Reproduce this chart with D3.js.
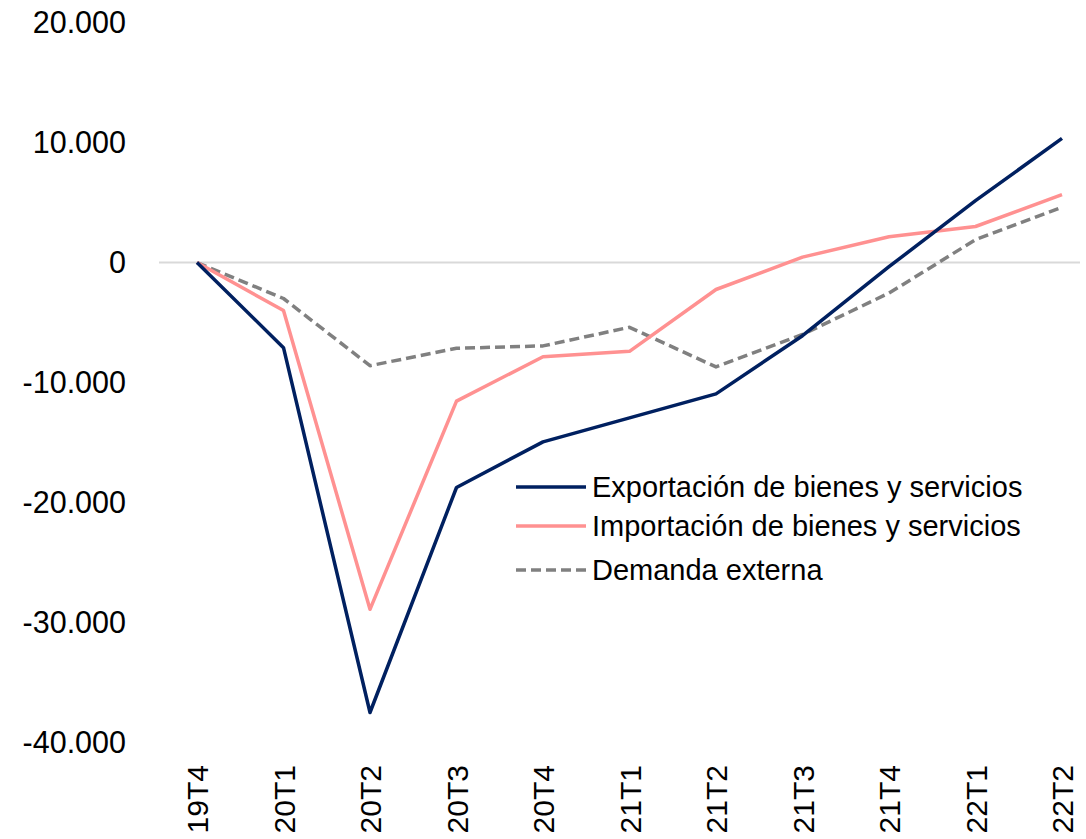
<!DOCTYPE html>
<html><head><meta charset="utf-8">
<script src="https://cdn.jsdelivr.net/npm/d3@7"></script>
<style>body{margin:0;background:#fff}svg{display:block;font-family:"Liberation Sans",Arial,sans-serif}</style>
</head><body>
<svg id="c" width="1086" height="839"></svg>
<script>
const categories = ["19T4","20T1","20T2","20T3","20T4","21T1","21T2","21T3","21T4","22T1","22T2"];
const exportacion = [0,-7100,-37500,-18750,-14950,-12950,-10950,-6100,-350,5150,10350];
const importacion = [0,-4000,-28900,-11550,-7850,-7400,-2250,450,2150,3000,5650];
const demanda = [0,-3000,-8600,-7150,-6950,-5400,-8700,-6000,-2550,1900,4600];
const yTicks = [20000,10000,0,-10000,-20000,-30000,-40000];
const seriesNames = ["Exportación de bienes y servicios","Importación de bienes y servicios","Demanda externa"];

const svg = d3.select("#c");
const x = d3.scalePoint().domain(categories).range([197,1062]);
const y = d3.scaleLinear().domain([-40000,20000]).range([742.5,22.5]);
const fmt = v => d3.format(",")(v).replace(/,/g,".").replace(/\u2212/g,"-");

// zero line
svg.append("line").attr("x1",159).attr("x2",1080).attr("y1",y(0)).attr("y2",y(0))
  .attr("stroke","#d9d9d9").attr("stroke-width",2);

// y axis labels
const ya = svg.append("g").attr("transform","translate(126,0)")
  .call(d3.axisLeft(y).tickValues(yTicks).tickFormat(fmt).tickSize(0).tickPadding(0));
ya.select(".domain").remove();
ya.selectAll("text").attr("font-size",30.5).attr("font-family","Liberation Sans, Arial, sans-serif").attr("fill","#000");

// x axis labels
const xa = svg.append("g").attr("transform","translate(0,765)")
  .call(d3.axisBottom(x).tickSize(0).tickPadding(0));
xa.select(".domain").remove();
xa.selectAll("text").attr("font-size",30).attr("font-family","Liberation Sans, Arial, sans-serif").attr("fill","#000")
  .attr("transform","rotate(-90)").attr("text-anchor","end").attr("dy","0.35em").attr("x",0).attr("y",0);

const line = d3.line().x((d,i)=>x(categories[i])).y(d=>y(d));
const series = [
  {name:seriesNames[2], data:demanda, color:"#808080", dash:"10,5"},
  {name:seriesNames[1], data:importacion, color:"#ff9191", dash:null},
  {name:seriesNames[0], data:exportacion, color:"#002060", dash:null}
];
series.forEach(s=>{
  svg.append("path").datum(s.data).attr("d",line).attr("fill","none")
    .attr("stroke",s.color).attr("stroke-width",3.5).attr("stroke-linejoin","round")
    .attr("stroke-dasharray",s.dash);
});

// legend
const legY = [487,526,570];
const leg = [series[2],series[1],series[0]];
leg.forEach((s,i)=>{
  svg.append("line").attr("x1",516).attr("x2",586).attr("y1",legY[i]).attr("y2",legY[i])
    .attr("stroke",s.color).attr("stroke-width",3.5).attr("stroke-dasharray",s.dash);
  svg.append("text").attr("x",592).attr("y",legY[i]).attr("dy","0.35em")
    .attr("font-size",29).attr("fill","#000").text(s.name);
});
</script>
</body></html>
